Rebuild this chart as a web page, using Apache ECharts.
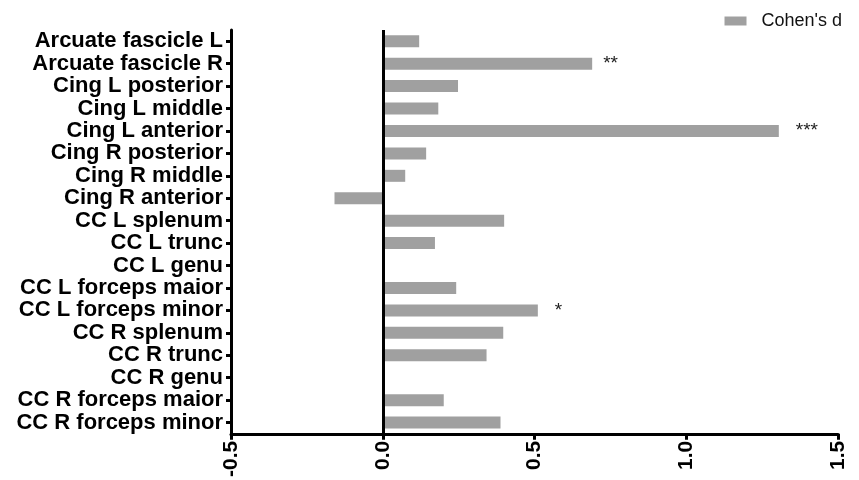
<!DOCTYPE html>
<html>
<head>
<meta charset="utf-8">
<script src="https://cdn.jsdelivr.net/npm/echarts@6/dist/echarts.min.js"></script>
<style>
  html, body { margin: 0; padding: 0; background: #fff; }
  #chart { width: 859px; height: 480px; }
</style>
</head>
<body>
<div id="chart"></div>
<script>
// Fibre tracts, listed top to bottom
const tracts = [
  'Arcuate fascicle L', 'Arcuate fascicle R',
  'Cing L posterior', 'Cing L middle', 'Cing L anterior',
  'Cing R posterior', 'Cing R middle', 'Cing R anterior',
  'CC L splenum', 'CC L trunc', 'CC L genu',
  'CC L forceps maior', 'CC L forceps minor',
  'CC R splenum', 'CC R trunc', 'CC R genu',
  'CC R forceps maior', 'CC R forceps minor'
];
// Effect size per tract
const cohensD = [
  0.12, 0.69,
  0.248, 0.183, 1.305,
  0.143, 0.074, -0.159,
  0.40, 0.172, 0,
  0.242, 0.511,
  0.397, 0.342, 0,
  0.201, 0.388
];
// Significance markers
const signif = [
  '', '**',
  '', '', '***',
  '', '', '',
  '', '', '',
  '', '*',
  '', '', '',
  '', ''
];
const xTicks = [-0.5, 0.0, 0.5, 1.0, 1.5];

const FONT = '"Liberation Sans", Arial, Helvetica, sans-serif';

const chart = echarts.init(document.getElementById('chart'), null, { renderer: 'canvas' });

const barData = cohensD.map((v, i) => ({
  value: v,
  label: {
    show: signif[i] !== '',
    position: 'right',
    distance: signif[i] === '**' ? 11 : 17,
    formatter: () => signif[i],
    color: '#222',
    fontSize: 19,
    fontFamily: FONT
  }
}));

chart.setOption({
  animation: false,
  backgroundColor: '#fff',
  grid: { left: 231, right: 21, top: 30, bottom: 46, containLabel: false },
  legend: {
    data: [{ name: "Cohen's d", icon: 'rect' }],
    right: 12,
    top: 7,
    itemWidth: 22,
    itemHeight: 9,
    textStyle: { fontFamily: FONT, fontSize: 18, color: '#111', padding: [0, 0, 0, 10] }
  },
  xAxis: {
    type: 'value',
    min: xTicks[0],
    max: xTicks[xTicks.length - 1],
    interval: 0.5,
    splitLine: { show: false },
    axisLine: { show: true, onZero: false, lineStyle: { color: '#000', width: 3 } },
    axisTick: { show: true, length: 6, lineStyle: { color: '#000', width: 3 } },
    axisLabel: {
      rotate: 90,
      margin: 7,
      fontFamily: FONT,
      fontWeight: 'bold',
      fontSize: 21,
      color: '#000',
      formatter: v => v.toFixed(1)
    }
  },
  yAxis: {
    type: 'category',
    data: tracts,
    inverse: true,
    axisLine: { show: true, onZero: false, lineStyle: { color: '#000', width: 3 } },
    axisTick: { show: true, alignWithLabel: true, interval: 0, length: 5, lineStyle: { color: '#000', width: 3 } },
    axisLabel: {
      interval: 0,
      margin: 8,
      fontFamily: FONT,
      fontWeight: 'bold',
      fontSize: 22,
      color: '#000'
    }
  },
  series: [{
    name: "Cohen's d",
    type: 'bar',
    data: barData,
    barWidth: 12,
    itemStyle: { color: '#a0a0a0' },
    markLine: {
      silent: true,
      symbol: ['none', 'none'],
      label: { show: false },
      lineStyle: { color: '#000', width: 3, type: 'solid' },
      data: [{ xAxis: 0 }]
    }
  }]
});
</script>
</body>
</html>
